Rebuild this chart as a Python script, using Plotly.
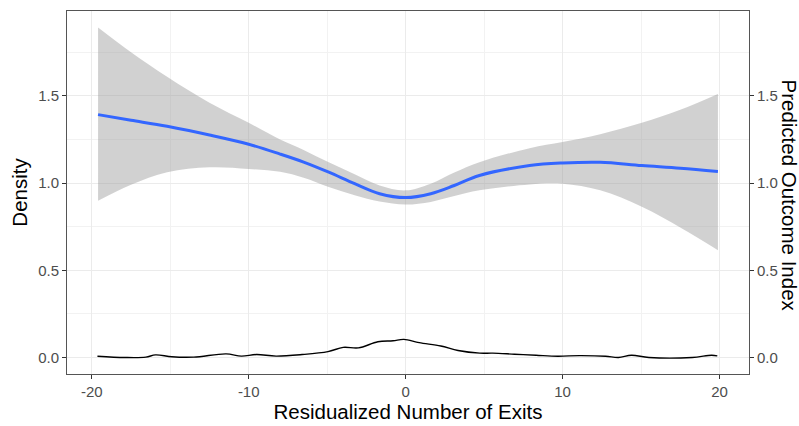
import plotly.graph_objects as go

# Smoothed fit (loess) with confidence band
fit_x = [-19.6, -17.5, -15.2, -12.5, -10.0, -8.0, -6.5, -4.9, -3.25, -1.66, 0.0, 1.6, 3.1, 4.7, 7.9, 10.0, 12.4, 15.05, 17.5, 19.9]
fit_y = [1.392, 1.36, 1.325, 1.275, 1.222, 1.166, 1.12, 1.062, 0.996, 0.939, 0.917, 0.939, 0.986, 1.043, 1.10, 1.115, 1.119, 1.10, 1.085, 1.066]
fit_lo = [0.898, 0.99, 1.062, 1.09, 1.081, 1.064, 1.03, 0.977, 0.93, 0.894, 0.877, 0.892, 0.925, 0.958, 0.992, 0.996, 0.958, 0.864, 0.745, 0.615]
fit_hi = [1.892, 1.75, 1.609, 1.46, 1.345, 1.25, 1.19, 1.119, 1.05, 0.986, 0.958, 0.996, 1.06, 1.119, 1.20, 1.235, 1.28, 1.345, 1.42, 1.511]

# Kernel density of residualized exits
dens_x = [-19.64, -17.9, -16.55, -15.94, -14.9, -13.5, -11.44, -10.47, -9.5, -8.26, -6.6, -4.95, -3.98, -3.01,
          -1.77, -0.8, -0.11, 0.86, 2.24, 3.34, 4.72, 5.55, 6.93, 8.31, 9.7, 11.08, 12.74, 13.56, 14.39, 15.5,
          18.26, 19.5, 19.86]
dens_y = [0.0075, 0.0, 0.002, 0.015, 0.004, 0.002, 0.021, 0.008, 0.017, 0.008, 0.017, 0.034, 0.058, 0.055,
          0.09, 0.096, 0.104, 0.085, 0.066, 0.040, 0.025, 0.025, 0.019, 0.013, 0.0075, 0.011, 0.0075, 0.0,
          0.013, 0.0, 0.0, 0.013, 0.009]

x_ticks = [-20, -10, 0, 10, 20]
y_ticks = [0.0, 0.5, 1.0, 1.5]
y_tick_labels = ["0.0", "0.5", "1.0", "1.5"]

FONT = "Liberation Sans, Arial, sans-serif"
TICK_FONT = dict(size=15, color="#4D4D4D", family=FONT)
TITLE_FONT = dict(size=20.5, color="black", family=FONT)

fig = go.Figure()
fig.add_trace(go.Scatter(x=fit_x, y=fit_lo, mode="lines", line=dict(width=0, shape="spline"),
                         showlegend=False, hoverinfo="skip"))
fig.add_trace(go.Scatter(x=fit_x, y=fit_hi, mode="lines", line=dict(width=0, shape="spline"),
                         fill="tonexty", fillcolor="rgba(153,153,153,0.45)", showlegend=False, hoverinfo="skip"))
fig.add_trace(go.Scatter(x=fit_x, y=fit_y, mode="lines", line=dict(color="#3366FF", width=3, shape="spline"),
                         showlegend=False))
fig.add_trace(go.Scatter(x=dens_x, y=dens_y, mode="lines", line=dict(color="black", width=1.4, shape="spline"),
                         showlegend=False))
# invisible trace on secondary axis
fig.add_trace(go.Scatter(x=[fit_x[0]], y=[fit_y[0]], mode="markers", marker=dict(opacity=0),
                         yaxis="y2", showlegend=False, hoverinfo="skip"))

yr = [-0.0945, 1.986]
fig.update_layout(
    width=799, height=426,
    margin=dict(l=67, r=50, t=10, b=49),
    paper_bgcolor="white", plot_bgcolor="white",
    font=dict(family=FONT, size=15, color="#4D4D4D"),
    xaxis=dict(range=[-21.58, 21.88], tickvals=x_ticks, ticktext=[str(v) for v in x_ticks],
               showgrid=True, gridcolor="#EBEBEB", gridwidth=1,
               minor=dict(tickvals=[-15, -5, 5, 15], showgrid=True, gridcolor="#F2F2F2", gridwidth=0.6, ticklen=0),
               zeroline=False, ticks="outside", ticklen=4, tickcolor="#333333",
               showline=True, linecolor="#555555", linewidth=1, mirror=True,
               tickfont=TICK_FONT,
               title=dict(text="Residualized Number of Exits", font=TITLE_FONT, standoff=2)),
    yaxis=dict(range=yr, tickvals=y_ticks, ticktext=y_tick_labels,
               showgrid=True, gridcolor="#EBEBEB", gridwidth=1,
               minor=dict(tickvals=[0.25, 0.75, 1.25, 1.75], showgrid=True, gridcolor="#F2F2F2", gridwidth=0.6, ticklen=0),
               zeroline=False, ticks="outside", ticklen=4, tickcolor="#333333",
               showline=True, linecolor="#555555", linewidth=1, mirror=True,
               tickfont=TICK_FONT,
               title=dict(text="Density", font=TITLE_FONT, standoff=4)),
    yaxis2=dict(range=yr, overlaying="y", side="right", tickvals=y_ticks, ticktext=y_tick_labels,
                showgrid=False, zeroline=False, ticks="outside", ticklen=4, tickcolor="#333333",
                tickfont=TICK_FONT),
    annotations=[dict(text="Predicted Outcome Index", textangle=90, xref="paper", yref="paper",
                      x=1.0, xshift=40, y=0.5, yshift=-3, xanchor="center", yanchor="middle", showarrow=False,
                      font=TITLE_FONT)],
)

fig.write_html("out.html")
